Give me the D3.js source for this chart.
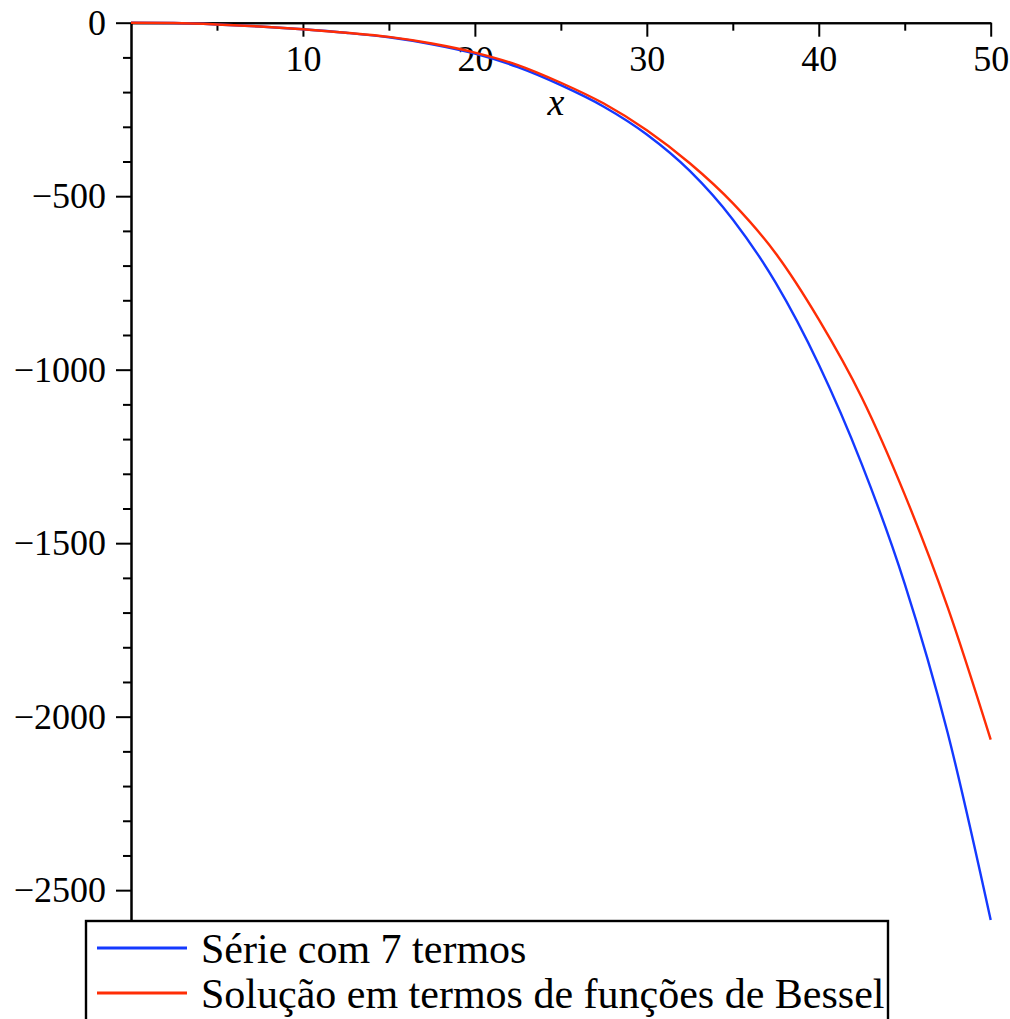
<!DOCTYPE html>
<html lang="pt">
<head>
<meta charset="UTF-8">
<title>Série vs Bessel</title>
<script src="https://cdn.jsdelivr.net/npm/d3@7"></script>
<style>
html,body {margin:0;padding:0;background:#fff;}
svg {display:block;}
.axis path, .axis line {stroke:#000;stroke-width:2;}
</style>
</head>
<body>
<div id="chart"></div>
<script>
// valores
const xs = [0, 2.5, 5, 7.5, 10, 12.5, 15, 17.5, 20, 22.5, 25, 27.5, 30, 32.5, 35, 37.5, 40, 42.5, 45, 47.5, 50];
const serie7 = [0, -1, -5, -11, -19, -29, -42, -62, -89, -128, -180, -242, -322, -427, -567, -750, -985, -1272, -1617, -2047, -2586];
const bessel = [0, -1, -5, -11, -19, -29, -41, -60, -86, -122, -173, -233, -310, -405, -520, -665, -855, -1080, -1360, -1685, -2066];

const xMajor = [10, 20, 30, 40, 50];
const xMinor = [5, 15, 25, 35, 45];
const yMajor = [0, -500, -1000, -1500, -2000, -2500];
const yMinor = d3.range(-100, -2600, -100).filter(d => d % 500 !== 0);

const legendLabels = ["Série com 7 termos", "Solução em termos de funções de Bessel"];
const colors = ["#1439ff", "#ff2d05"];

const serif = "'Liberation Serif', 'Times New Roman', serif";
const W = 1010, H = 1019;
const svg = d3.select("#chart").append("svg")
	.attr("width", W).attr("height", H)
	.style("font-family", serif);

const x = d3.scaleLinear().domain([0, 50]).range([131, 990.7]);
const y = d3.scaleLinear().domain([-2586, 0]).range([920, 22.7]);

function styleAxis(g) {
	g.attr("font-family", serif).attr("font-size", 36);
	g.selectAll("text").style("font-family", serif).style("font-size", "36px").attr("fill", "#000");
}

// eixo y (minor + major)
svg.append("g").attr("class", "axis")
	.attr("transform", "translate(" + x(0) + ",0)")
	.call(d3.axisLeft(y).tickValues(yMinor).tickSize(8).tickSizeOuter(0).tickFormat(""));
svg.append("g").attr("class", "axis")
	.attr("transform", "translate(" + x(0) + ",0)")
	.call(d3.axisLeft(y).tickValues(yMajor).tickSize(15).tickSizeOuter(0).tickPadding(10)
		.tickFormat(d => d === 0 ? "0" : "\u2212" + Math.abs(d)))
	.call(styleAxis);

// eixo x
svg.append("g").attr("class", "axis")
	.attr("transform", "translate(0," + y(0) + ")")
	.call(d3.axisBottom(x).tickValues(xMinor).tickSize(8).tickSizeOuter(0).tickFormat(""));
svg.append("g").attr("class", "axis")
	.attr("transform", "translate(0," + y(0) + ")")
	.call(d3.axisBottom(x).tickValues(xMajor).tickSize(14).tickSizeOuter(0).tickPadding(9))
	.call(styleAxis);

svg.append("text")
	.attr("x", 556).attr("y", 115)
	.attr("text-anchor", "middle")
	.attr("font-size", 38).attr("font-style", "italic")
	.text("x");

// curvas
const line = d3.line()
	.x((d, i) => x(xs[i]))
	.y(d => y(d))
	.curve(d3.curveMonotoneX);

[serie7, bessel].forEach(function (s, i) {
	svg.append("path")
		.attr("d", line(s))
		.attr("fill", "none")
		.attr("stroke", colors[i])
		.attr("stroke-width", 2.4);
});

// legenda
const lg = svg.append("g");
lg.append("rect")
	.attr("x", 86).attr("y", 921)
	.attr("width", 802).attr("height", 130)
	.attr("fill", "#fff").attr("stroke", "#000").attr("stroke-width", 2.4);

legendLabels.forEach(function (t, i) {
	const yy = 948 + i * 45;
	lg.append("line")
		.attr("x1", 97).attr("x2", 187)
		.attr("y1", yy).attr("y2", yy)
		.attr("stroke", colors[i]).attr("stroke-width", 3);
	lg.append("text")
		.attr("x", 201).attr("y", yy + 15)
		.attr("font-size", 42)
		.text(t);
});
</script>
</body>
</html>
